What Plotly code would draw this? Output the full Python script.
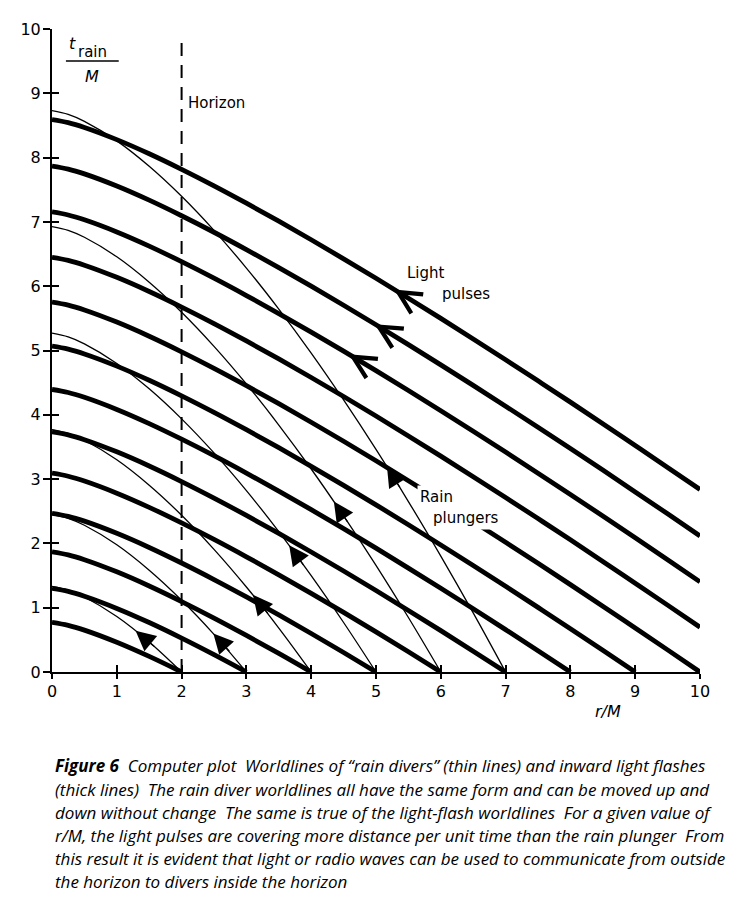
import math
import plotly.graph_objects as go

# ---------------- data ----------------
# radial grid r/M at which the curve forms are tabulated
r_grid = [0, 0.25, 0.5, 1, 1.5, 2, 2.5, 3, 3.5, 4, 4.5, 5, 5.5, 6, 6.5, 7,
          7.5, 8, 8.5, 9, 9.5, 10]
# common form of the light-flash worldlines: drop of t_rain/M from r=0
light_form = [0, 0.047, 0.122, 0.311, 0.531, 0.773, 1.030, 1.300, 1.580, 1.869,
              2.165, 2.468, 2.778, 3.092, 3.411, 3.735, 4.063, 4.394, 4.729,
              5.068, 5.409, 5.753]
# common form of the rain-diver worldlines (tabulated up to r/M = 7)
rain_form = [0, 0.059, 0.167, 0.471, 0.866, 1.333, 1.863, 2.449, 3.087, 3.771,
             4.500, 5.270, 6.080, 6.928, 7.812, 8.731]
# t_rain/M where each worldline meets r = 0
light_t0 = [0.773, 1.300, 1.869, 2.468, 3.092, 3.735, 4.394, 5.068, 5.753,
            6.449, 7.155, 7.869, 8.591]
rain_t0 = [1.333, 2.449, 3.771, 5.270, 6.928, 8.731]
horizon_r = 2
horizon_top = 9.8

x_ticks = list(range(0, 11))
y_ticks = list(range(0, 11))

# direction arrows (tip position on curve, direction angle above leftwards)
rain_arrow_r = [1.29, 2.49, 3.10, 3.66, 4.35, 5.17]
rain_arrow_t = [0.64, 0.60, 1.20, 1.97, 2.65, 3.19]
rain_arrow_ang = [40, 48, 51, 54, 56, 58]
light_arrow_r = [5.28, 4.98, 4.58]
light_arrow_t = [5.95, 5.41, 4.94]
light_arrow_ang = [32, 31, 31]

caption_lines = [
    "<b>Figure 6</b>\u00a0\u00a0Computer plot\u00a0\u00a0Worldlines of \u201crain divers\u201d (thin lines) and inward light flashes",
    "(thick lines)\u00a0\u00a0The rain diver worldlines all have the same form and can be moved up and",
    "down without change\u00a0\u00a0The same is true of the light-flash worldlines\u00a0\u00a0For a given value of",
    "r/M, the light pulses are covering more distance per unit time than the rain plunger\u00a0\u00a0From",
    "this result it is evident that light or radio waves can be used to communicate from outside",
    "the horizon to divers inside the horizon",
]

# ---------------- figure ----------------
W, H = 735, 889
ML, MT, PW, PH = 41, 20, 651, 644

fig = go.Figure()


def curve(t0, form):
    xs, ys = [], []
    for r, s in zip(r_grid, form):
        t = t0 - s
        if t >= -1e-9:
            xs.append(r)
            ys.append(max(t, 0.0))
    return xs, ys


for t0 in light_t0:
    xs, ys = curve(t0, light_form)
    fig.add_trace(go.Scatter(x=xs, y=ys, mode="lines",
                             line=dict(color="black", width=4.8, shape="spline", smoothing=1.0),
                             showlegend=False, hoverinfo="skip"))

for t0 in rain_t0:
    xs, ys = curve(t0, rain_form)
    fig.add_trace(go.Scatter(x=xs, y=ys, mode="lines",
                             line=dict(color="black", width=1.3, shape="spline", smoothing=1.0),
                             showlegend=False, hoverinfo="skip"))

fig.add_trace(go.Scatter(x=[horizon_r, horizon_r], y=[0, horizon_top], mode="lines",
                         line=dict(color="black", width=2, dash="13px,9px"),
                         showlegend=False, hoverinfo="skip"))

# dummy trace to create overlay axes for the inward half of the ticks
fig.add_trace(go.Scatter(x=[None], y=[None], xaxis="x2", yaxis="y2",
                         showlegend=False, hoverinfo="skip"))


def px(x_win, y_win):
    """window pixel -> paper coords (page has an 8px body margin)"""
    return (x_win - 8 - ML) / PW, (MT + PH - (y_win - 8)) / PH


ann = []
L = 26
for r, t, a in zip(rain_arrow_r, rain_arrow_t, rain_arrow_ang):
    ann.append(dict(x=r, y=t, xref="x", yref="y", showarrow=True,
                    ax=L * math.cos(math.radians(a)), ay=L * math.sin(math.radians(a)),
                    arrowhead=2, arrowsize=3.3, arrowwidth=1.2, arrowcolor="black", text=""))
for r, t, a in zip(light_arrow_r, light_arrow_t, light_arrow_ang):
    ann.append(dict(x=r, y=t, xref="x", yref="y", showarrow=True,
                    ax=L * math.cos(math.radians(a)), ay=L * math.sin(math.radians(a)),
                    arrowhead=5, arrowsize=2.2, arrowwidth=2, arrowcolor="black", text=""))

lab_font = dict(family="DejaVu Sans", size=15, color="black")
ann += [
    dict(x=2.07, y=8.85, text="Horizon", xanchor="left", showarrow=False, font=lab_font),
    dict(x=5.45, y=6.21, text="Light", xanchor="left", showarrow=False, font=lab_font),
    dict(x=5.99, y=5.885, text="pulses", xanchor="left", showarrow=False, font=lab_font),
    dict(x=5.63, y=2.72, text="Rain", xanchor="left", showarrow=False, font=lab_font,
         bgcolor="white", borderpad=2),
    dict(x=5.84, y=2.39, text="plungers", xanchor="left", showarrow=False, font=lab_font,
         bgcolor="white", borderpad=2),
    dict(x=0.31, y=9.77, text="<i>t</i>", showarrow=False,
         font=dict(family="DejaVu Sans", size=16, color="black")),
    dict(x=0.63, y=9.64, text="rain", showarrow=False,
         font=dict(family="DejaVu Sans", size=15, color="black")),
    dict(x=0.61, y=9.26, text="<i>M</i>", showarrow=False,
         font=dict(family="DejaVu Sans", size=16, color="black")),
]
rx, ry = px(608, 712)
ann.append(dict(x=rx, y=ry, xref="paper", yref="paper", xanchor="center", yanchor="middle",
                text="<i>r/M</i>", showarrow=False,
                font=dict(family="DejaVu Sans", size=16, color="black")))

for i, line in enumerate(caption_lines):
    cx, cy = px(50, 766 + 23.2 * i)
    ann.append(dict(x=cx, y=cy, xref="paper", yref="paper",
                    xanchor="left", yanchor="middle", showarrow=False, text=line,
                    font=dict(family="Open Sans", size=17, color="black", style="italic")))

fig.update_layout(
    width=W, height=H,
    margin=dict(l=ML, r=W - ML - PW, t=MT, b=H - MT - PH),
    paper_bgcolor="white", plot_bgcolor="white",
    annotations=ann,
    shapes=[dict(type="line", xref="x", yref="y", x0=0.215, x1=1.03, y0=9.503, y1=9.503,
                 line=dict(color="black", width=1.5))],
    xaxis=dict(range=[0, 10], tickvals=x_ticks, ticks="outside", ticklen=5, tickwidth=2,
               tickcolor="black", showline=True, linewidth=2, linecolor="black",
               showgrid=False, zeroline=False, ticklabelstandoff=-1,
               tickfont=dict(family="DejaVu Sans", size=16, color="black")),
    yaxis=dict(range=[0, 10], tickvals=y_ticks, ticks="outside", ticklen=7, tickwidth=2,
               tickcolor="black", showline=True, linewidth=2, linecolor="black",
               showgrid=False, zeroline=False, ticklabelstandoff=-1,
               tickfont=dict(family="DejaVu Sans", size=16, color="black")),
    xaxis2=dict(range=[0, 10], overlaying="x", anchor="y2", side="bottom", tickvals=x_ticks,
                ticks="inside", ticklen=7, tickwidth=2, tickcolor="black",
                showticklabels=False, showline=False, showgrid=False, zeroline=False),
    yaxis2=dict(range=[0, 10], overlaying="y", anchor="x2", side="left", tickvals=y_ticks,
                ticks="inside", ticklen=7, tickwidth=2, tickcolor="black",
                showticklabels=False, showline=False, showgrid=False, zeroline=False),
)

fig.write_html("out.html")
